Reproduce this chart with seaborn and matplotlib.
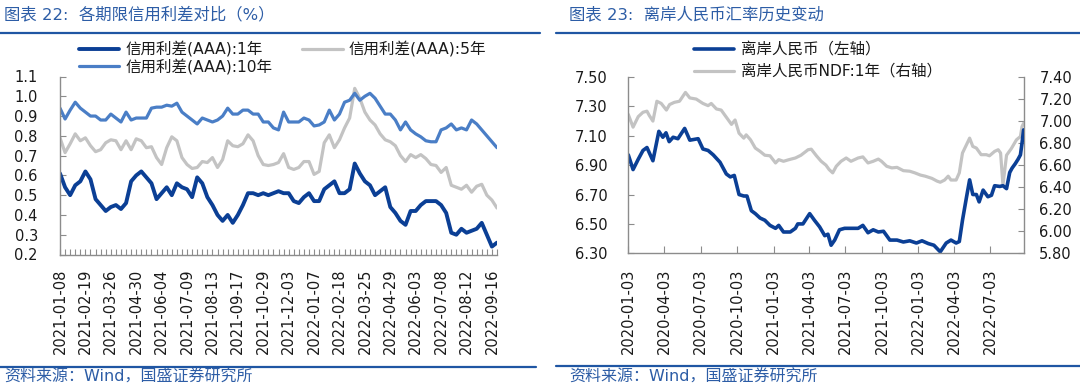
import numpy as np
import pandas as pd
import matplotlib
matplotlib.use("Agg")
import matplotlib.pyplot as plt
from matplotlib.lines import Line2D
from matplotlib.ticker import FormatStrFormatter
import seaborn as sns

sns.set_theme(style="white")
FAM = ["DejaVu Sans", "Noto Sans CJK SC"]
plt.rcParams["font.family"] = FAM
plt.rcParams["axes.unicode_minus"] = False

# ---------------- Left chart data (weekly, category axis) ----------------
week_dates = pd.date_range("2021-01-08", "2022-09-23", freq="7D")
week_dates = week_dates.drop(pd.to_datetime(["2021-02-12", "2021-10-01", "2022-02-04"]))
week_labels = [d.strftime("%Y-%m-%d") for d in week_dates]

spread_1y = [0.61, 0.54, 0.50, 0.55, 0.57, 0.62, 0.58, 0.48, 0.45, 0.42,
             0.44, 0.45, 0.43, 0.46, 0.57, 0.60, 0.62, 0.59, 0.56, 0.48,
             0.51, 0.54, 0.50, 0.56, 0.54, 0.53, 0.49, 0.59, 0.56, 0.49,
             0.45, 0.40, 0.37, 0.40, 0.36, 0.40, 0.45, 0.51, 0.51, 0.50,
             0.51, 0.50, 0.51, 0.52, 0.51, 0.51, 0.47, 0.46, 0.49, 0.51,
             0.47, 0.47, 0.53, 0.55, 0.57, 0.51, 0.51, 0.53, 0.66, 0.61,
             0.57, 0.55, 0.50, 0.52, 0.54, 0.44, 0.41, 0.37, 0.35, 0.42,
             0.42, 0.45, 0.47, 0.47, 0.47, 0.45, 0.41, 0.31, 0.30, 0.33,
             0.31, 0.32, 0.33, 0.36, 0.30, 0.24, 0.26]
spread_5y = [0.79, 0.715, 0.76, 0.81, 0.775, 0.79, 0.75, 0.72, 0.73, 0.765,
             0.78, 0.775, 0.73, 0.775, 0.73, 0.785, 0.775, 0.74, 0.745, 0.69,
             0.655, 0.74, 0.795, 0.775, 0.69, 0.655, 0.635, 0.64, 0.67, 0.665,
             0.69, 0.64, 0.68, 0.775, 0.75, 0.745, 0.76, 0.805, 0.775, 0.70,
             0.655, 0.65, 0.655, 0.665, 0.71, 0.64, 0.63, 0.64, 0.67, 0.67,
             0.605, 0.62, 0.765, 0.805, 0.74, 0.78, 0.84, 0.89, 1.04, 0.99,
             0.92, 0.88, 0.855, 0.81, 0.78, 0.77, 0.75, 0.70, 0.67, 0.705,
             0.69, 0.705, 0.685, 0.655, 0.65, 0.615, 0.64, 0.55, 0.54, 0.53,
             0.55, 0.515, 0.545, 0.555, 0.50, 0.475, 0.435]
spread_10y = [0.94, 0.885, 0.93, 0.97, 0.94, 0.92, 0.90, 0.90, 0.88, 0.88,
              0.91, 0.89, 0.87, 0.92, 0.88, 0.89, 0.89, 0.89, 0.94, 0.945,
              0.945, 0.955, 0.95, 0.965, 0.92, 0.90, 0.88, 0.86, 0.89, 0.88,
              0.87, 0.88, 0.90, 0.94, 0.91, 0.91, 0.93, 0.93, 0.91, 0.91,
              0.87, 0.87, 0.84, 0.83, 0.92, 0.87, 0.87, 0.87, 0.89, 0.88,
              0.85, 0.855, 0.87, 0.93, 0.88, 0.91, 0.97, 0.98, 1.015, 0.98,
              1.00, 1.015, 0.99, 0.95, 0.91, 0.91, 0.88, 0.83, 0.87, 0.83,
              0.81, 0.795, 0.775, 0.77, 0.77, 0.83, 0.84, 0.86, 0.83, 0.84,
              0.83, 0.88, 0.86, 0.83, 0.80, 0.77, 0.74]
left_yticks = [0.2, 0.3, 0.4, 0.5, 0.6, 0.7, 0.8, 0.9, 1.0, 1.1]

# ---------------- Right chart data ----------------
cnh_dates = ["2020-01-03", "2020-01-15", "2020-01-28", "2020-02-09", "2020-02-19", "2020-03-05",
             "2020-03-20", "2020-03-30", "2020-04-07", "2020-04-15", "2020-04-25", "2020-05-07",
             "2020-05-24", "2020-06-06", "2020-06-27", "2020-07-09", "2020-07-22", "2020-08-04",
             "2020-08-21", "2020-09-06", "2020-09-16", "2020-09-26", "2020-10-08", "2020-10-20",
             "2020-10-28", "2020-11-08", "2020-11-18", "2020-11-30", "2020-12-12", "2020-12-25",
             "2021-01-08", "2021-01-16", "2021-01-28", "2021-02-14", "2021-02-27", "2021-03-05",
             "2021-03-18", "2021-04-04", "2021-04-16", "2021-04-29", "2021-05-12", "2021-05-20",
             "2021-05-28", "2021-06-06", "2021-06-18", "2021-07-01", "2021-07-17", "2021-08-04",
             "2021-08-16", "2021-08-29", "2021-09-11", "2021-09-24", "2021-10-07", "2021-10-23",
             "2021-11-10", "2021-11-26", "2021-12-12", "2021-12-29", "2022-01-12", "2022-01-28",
             "2022-02-11", "2022-02-27", "2022-03-14", "2022-03-26", "2022-04-08", "2022-04-16",
             "2022-04-24", "2022-05-04", "2022-05-12", "2022-05-20", "2022-05-29", "2022-06-05",
             "2022-06-15", "2022-06-27", "2022-07-06", "2022-07-14", "2022-07-27", "2022-08-04",
             "2022-08-13", "2022-08-21", "2022-08-27", "2022-09-04", "2022-09-11", "2022-09-17",
             "2022-09-21", "2022-09-25"]
cnh_vals = [6.97, 6.87, 6.94, 7.00, 7.02, 6.93,
            7.13, 7.09, 7.12, 7.06, 7.09, 7.08,
            7.15, 7.07, 7.08, 7.01, 7.00, 6.97,
            6.92, 6.84, 6.82, 6.83, 6.70, 6.69,
            6.69, 6.59, 6.57, 6.54, 6.525, 6.49,
            6.47, 6.49, 6.445, 6.445, 6.47, 6.50,
            6.50, 6.57, 6.525, 6.48, 6.42, 6.43,
            6.355, 6.39, 6.46, 6.47, 6.47, 6.47,
            6.49, 6.44, 6.46, 6.445, 6.45, 6.39,
            6.39, 6.377, 6.385, 6.37, 6.385, 6.366,
            6.355, 6.31, 6.37, 6.39, 6.37, 6.38,
            6.525, 6.68, 6.80, 6.70, 6.70, 6.65,
            6.73, 6.685, 6.695, 6.76, 6.755, 6.76,
            6.74, 6.85, 6.88, 6.91, 6.94, 6.97,
            7.05, 7.14]

ndf_dates = ["2020-01-03", "2020-01-15", "2020-01-28", "2020-02-09", "2020-02-19", "2020-02-25",
             "2020-03-05", "2020-03-15", "2020-03-26", "2020-04-08", "2020-04-16", "2020-04-28",
             "2020-05-11", "2020-05-26", "2020-06-06", "2020-06-22", "2020-07-09", "2020-07-22",
             "2020-07-30", "2020-08-12", "2020-08-24", "2020-09-07", "2020-09-19", "2020-09-28",
             "2020-10-08", "2020-10-20", "2020-10-26", "2020-11-06", "2020-11-18", "2020-11-30",
             "2020-12-12", "2020-12-25", "2021-01-08", "2021-01-16", "2021-01-28", "2021-02-11",
             "2021-02-27", "2021-03-13", "2021-03-31", "2021-04-08", "2021-04-21", "2021-05-03",
             "2021-05-15", "2021-05-23", "2021-06-01", "2021-06-10", "2021-06-22", "2021-07-05",
             "2021-07-17", "2021-08-04", "2021-08-16", "2021-08-29", "2021-09-11", "2021-09-24",
             "2021-10-02", "2021-10-15", "2021-10-28", "2021-11-10", "2021-11-26", "2021-12-12",
             "2021-12-25", "2022-01-08", "2022-01-20", "2022-02-06", "2022-02-19", "2022-02-27",
             "2022-03-10", "2022-03-19", "2022-03-26", "2022-04-08", "2022-04-16", "2022-04-24",
             "2022-05-04", "2022-05-12", "2022-05-20", "2022-05-29", "2022-06-10", "2022-06-23",
             "2022-07-01", "2022-07-14", "2022-07-23", "2022-07-29", "2022-08-04", "2022-08-13",
             "2022-08-25", "2022-09-07", "2022-09-17", "2022-09-21", "2022-09-25"]
ndf_vals = [7.06, 6.945, 7.04, 7.08, 7.09, 7.05,
            7.00, 7.18, 7.16, 7.10, 7.15, 7.17,
            7.18, 7.26, 7.21, 7.20, 7.16, 7.14,
            7.16, 7.11, 7.10, 7.03, 6.97, 7.01,
            6.89, 6.845, 6.875, 6.83, 6.755, 6.725,
            6.69, 6.685, 6.62, 6.65, 6.635, 6.65,
            6.665, 6.69, 6.74, 6.745, 6.685, 6.635,
            6.60, 6.56, 6.53, 6.59, 6.635, 6.665,
            6.635, 6.665, 6.675, 6.62, 6.635, 6.655,
            6.635, 6.59, 6.575, 6.58, 6.55, 6.545,
            6.53, 6.51, 6.50, 6.48, 6.455, 6.445,
            6.465, 6.50, 6.465, 6.465, 6.53, 6.71,
            6.785, 6.845, 6.77, 6.755, 6.695, 6.695,
            6.685, 6.725, 6.74, 6.71, 6.42, 6.69,
            6.75, 6.83, 6.86, 6.95, 6.98]

quarter_ticks = ["2020-01-03", "2020-04-03", "2020-07-03", "2020-10-03", "2021-01-03", "2021-04-03",
                 "2021-07-03", "2021-10-03", "2022-01-03", "2022-04-03", "2022-07-03"]
cnh_yticks = [6.30, 6.50, 6.70, 6.90, 7.10, 7.30, 7.50]
ndf_yticks = [5.80, 6.00, 6.20, 6.40, 6.60, 6.80, 7.00, 7.20, 7.40]

# ---------------- Style ----------------
C_DARK = "#0B3F95"
C_MID = "#4A7EC6"
C_GRAY = "#C3C3C3"
C_SPINE = "#8C8C8C"
C_TITLE = "#2D5DA6"
C_RULE = "#1F56A3"
C_TEXT = "#1A1A1A"
W, H = 1080, 387

fig = plt.figure(figsize=(W / 100, H / 100), dpi=100)
fig.patch.set_facecolor("white")


def fx(px):
    return px / W


def fy(py):
    return 1 - py / H


# ---------------- Left chart ----------------
ax1 = fig.add_axes([fx(60), fy(254.5), fx(437), 178 / H])
idx = np.arange(len(week_labels))
df_left = pd.DataFrame({"i": idx, "s1": spread_1y, "s5": spread_5y, "s10": spread_10y})
sns.lineplot(data=df_left, x="i", y="s5", ax=ax1, color=C_GRAY, lw=2.3, legend=False)
h5 = ax1.lines[-1]
sns.lineplot(data=df_left, x="i", y="s10", ax=ax1, color=C_MID, lw=2.3, legend=False)
h10 = ax1.lines[-1]
sns.lineplot(data=df_left, x="i", y="s1", ax=ax1, color=C_DARK, lw=2.8, legend=False)
h1 = ax1.lines[-1]

ax1.set_xlim(0, len(week_labels) - 1)
ax1.set_ylim(0.2, 1.1)
ax1.set_yticks(left_yticks)
ax1.yaxis.set_major_formatter(FormatStrFormatter("%.1f"))
ax1.set_xticks(idx)
ax1.set_xticklabels([lab if i % 5 == 0 else "" for i, lab in enumerate(week_labels)],
                    rotation=90, fontsize=10.5, color=C_TEXT)
ax1.set_xlabel("")
ax1.set_ylabel("")
for s in ["top", "right"]:
    ax1.spines[s].set_visible(False)
for s in ["left", "bottom"]:
    ax1.spines[s].set_color(C_SPINE)
    ax1.spines[s].set_linewidth(1.0)
ax1.tick_params(axis="x", direction="in", length=4, width=0.8, color=C_SPINE, pad=10, bottom=True)
ax1.tick_params(axis="y", direction="in", length=4, width=0.8, color=C_SPINE, pad=16,
                labelsize=10.5, labelcolor=C_TEXT, left=True)

leg1 = fig.legend([h1, h10, h5], ["信用利差(AAA):1年", "信用利差(AAA):10年", "信用利差(AAA):5年"],
                  loc="upper left", bbox_to_anchor=(fx(79), fy(41)), ncol=2, frameon=False,
                  borderpad=0, borderaxespad=0, handlelength=2.6, handletextpad=0.4,
                  columnspacing=1.9, labelspacing=0.1, prop={"family": FAM, "size": 11.2})
for t in leg1.get_texts():
    t.set_color(C_TEXT)

# ---------------- Right chart ----------------
ax2 = fig.add_axes([fx(628.3), fy(253.3), fx(395.7), 176.3 / H])
df_cnh = pd.DataFrame({"date": pd.to_datetime(cnh_dates), "v": cnh_vals})
df_ndf = pd.DataFrame({"date": pd.to_datetime(ndf_dates), "v": ndf_vals})
sns.lineplot(data=df_cnh, x="date", y="v", ax=ax2, color=C_DARK, lw=2.6, legend=False)
hc = ax2.lines[-1]
ax3 = ax2.twinx()
sns.lineplot(data=df_ndf, x="date", y="v", ax=ax3, color=C_GRAY, lw=2.3, legend=False)
hn = ax3.lines[-1]
ax2.set_zorder(ax3.get_zorder() + 1)
ax2.patch.set_visible(False)

ax2.set_xlim(pd.Timestamp("2020-01-03"), pd.Timestamp("2022-09-26"))
ax2.set_ylim(6.30, 7.50)
ax3.set_ylim(5.80, 7.40)
ax2.set_yticks(cnh_yticks)
ax3.set_yticks(ndf_yticks)
ax2.yaxis.set_major_formatter(FormatStrFormatter("%.2f"))
ax3.yaxis.set_major_formatter(FormatStrFormatter("%.2f"))
qt = pd.to_datetime(quarter_ticks)
ax2.set_xticks(qt)
ax2.set_xticklabels(quarter_ticks, rotation=90, fontsize=10.5, color=C_TEXT)
for a in (ax2, ax3):
    a.set_xlabel("")
    a.set_ylabel("")
    a.spines["top"].set_visible(False)
    for s in ["left", "bottom", "right"]:
        a.spines[s].set_color(C_SPINE)
        a.spines[s].set_linewidth(1.0)
ax2.spines["right"].set_visible(False)
ax3.spines["left"].set_visible(False)
ax3.spines["bottom"].set_visible(False)
ax2.tick_params(axis="x", direction="in", length=5, width=0.8, color=C_SPINE, pad=11, bottom=True)
ax2.tick_params(axis="y", direction="in", length=4, width=0.8, color=C_SPINE, pad=15,
                labelsize=10.5, labelcolor=C_TEXT, left=True)
ax3.tick_params(axis="y", direction="in", length=4, width=0.8, color=C_SPINE, pad=11,
                labelsize=10.5, labelcolor=C_TEXT, right=True)

leg2 = fig.legend([hc, hn], ["离岸人民币（左轴）", "离岸人民币NDF:1年（右轴）"],
                  loc="upper left", bbox_to_anchor=(fx(694), fy(42)), ncol=1, frameon=False,
                  borderpad=0, borderaxespad=0, handlelength=2.6, handletextpad=0.4,
                  labelspacing=0.5, prop={"family": FAM, "size": 11.2})
for t in leg2.get_texts():
    t.set_color(C_TEXT)

# ---------------- Titles, rules, sources ----------------
fig.text(fx(4), fy(14.5), "图表 22:  各期限信用利差对比（%）", color=C_TITLE, fontsize=11.8,
         family=FAM, ha="left", va="center")
fig.text(fx(569), fy(14.5), "图表 23:  离岸人民币汇率历史变动", color=C_TITLE, fontsize=11.8,
         family=FAM, ha="left", va="center")
fig.text(fx(4), fy(377.5), "资料来源：Wind，国盛证券研究所", color=C_TITLE, fontsize=11.5,
         family=FAM, ha="left", va="center")
fig.text(fx(569), fy(377.5), "资料来源：Wind，国盛证券研究所", color=C_TITLE, fontsize=11.5,
         family=FAM, ha="left", va="center")

for (x0, x1, y) in [(0, 540, 32.7), (556.5, 1080, 32.7), (0, 536, 366.5), (556.5, 1080, 365.5)]:
    fig.add_artist(Line2D([fx(x0), fx(x1)], [fy(y), fy(y)], transform=fig.transFigure,
                          color=C_RULE, lw=1.6))

fig.savefig("out.png", dpi=100, facecolor="white")
